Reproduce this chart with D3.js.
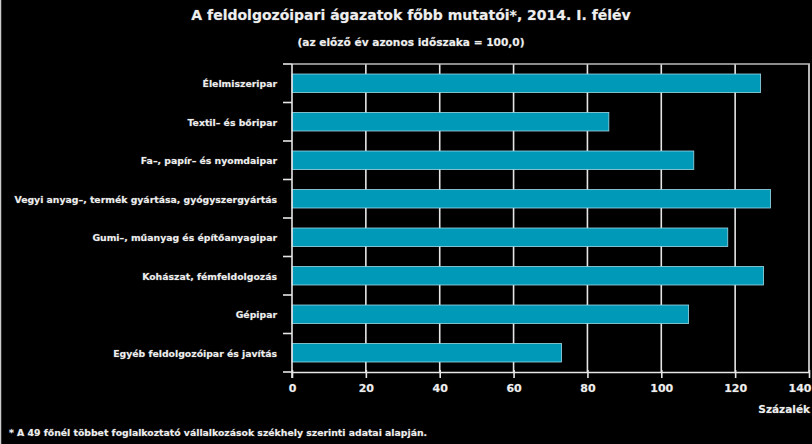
<!DOCTYPE html>
<html><head><meta charset="utf-8">
<script src="https://cdn.jsdelivr.net/npm/d3@7"></script>
<style>
html,body{margin:0;padding:0;background:#000;}
svg{display:block;}
text{font-family:"DejaVu Sans",Verdana,sans-serif;fill:#eeeeee;paint-order:stroke;stroke:#555;stroke-width:0.6px;}
</style></head>
<body>
<script>
const categories = [
  "Élelmiszeripar",
  "Textil– és bőripar",
  "Fa–, papír– és nyomdaipar",
  "Vegyi anyag–, termék gyártása, gyógyszergyártás",
  "Gumi–, műanyag és építőanyagipar",
  "Kohászat, fémfeldolgozás",
  "Gépipar",
  "Egyéb feldolgozóipar és javítás"
];
const values = [126.9, 85.8, 108.8, 129.6, 118.0, 127.7, 107.4, 73.0];
const xTicks = [0, 20, 40, 60, 80, 100, 120, 140];
const title = "A feldolgozóipari ágazatok főbb mutatói*, 2014. I. félév";
const subtitle = "(az előző év azonos időszaka = 100,0)";
const xAxisTitle = "Százalék";
const footnote = "* A 49 főnél többet foglalkoztató vállalkozások székhely szerinti adatai alapján.";

const W = 812, H = 444;
const mLeft = 292, mRight = 809, mTop = 64, mBottom = 372;

const svg = d3.select("body").append("svg").attr("width", W).attr("height", H);
svg.append("rect").attr("width", W).attr("height", H).attr("fill", "#000");
svg.append("line").attr("x1", 0.5).attr("x2", 0.5).attr("y1", 0).attr("y2", H)
  .attr("stroke", "#cccccc").attr("stroke-width", 1.5);

const x = d3.scaleLinear().domain([0, 140]).range([mLeft, mRight]);
const y = d3.scaleBand().domain(categories).range([mTop, mBottom]).paddingInner(0.52).paddingOuter(0.26);

// grid
svg.append("g").selectAll("line").data(xTicks.slice(1)).join("line")
  .attr("x1", d => x(d)).attr("x2", d => x(d)).attr("y1", mTop).attr("y2", mBottom)
  .attr("stroke", "#e6e6e6").attr("stroke-width", 1.6);
// top border
svg.append("line").attr("x1", mLeft).attr("x2", mRight + 1).attr("y1", mTop).attr("y2", mTop)
  .attr("stroke", "#bbbbbb").attr("stroke-width", 1.5);

// bars
svg.append("g").selectAll("rect").data(values).join("rect")
  .attr("x", x(0)).attr("y", (d, i) => y(categories[i]))
  .attr("width", d => x(d) - x(0)).attr("height", y.bandwidth())
  .attr("fill", "#0099b8").attr("stroke", "#9fdbe8").attr("stroke-width", 0.8);

// x axis
const xAxis = svg.append("g").attr("transform", `translate(0,${mBottom})`)
  .call(d3.axisBottom(x).tickValues(xTicks).tickSize(6).tickSizeOuter(0));
xAxis.select(".domain").attr("stroke", "#e6e6e6").attr("stroke-width", 1.6);
xAxis.selectAll(".tick line").attr("stroke", "#e6e6e6").attr("stroke-width", 1.6).attr("y1", -2);
xAxis.selectAll(".tick text").attr("dy", 0).attr("y", 20)
  .style("font-size", "11px").style("font-weight", "bold").attr("fill", "#eee")
  .attr("text-anchor", d => d === 140 ? "end" : "middle")
  .attr("x", d => d === 140 ? 2 : 0);

// y axis with ticks at band boundaries
const boundaries = d3.range(categories.length + 1).map(i => mTop + i * y.step());
svg.append("line").attr("x1", mLeft).attr("x2", mLeft).attr("y1", mTop).attr("y2", mBottom + 6)
  .attr("stroke", "#e6e6e6").attr("stroke-width", 1.6);
svg.append("g").selectAll("line").data(boundaries).join("line")
  .attr("x1", mLeft - 9).attr("x2", mLeft).attr("y1", d => d).attr("y2", d => d)
  .attr("stroke", "#e6e6e6").attr("stroke-width", 1.6);

svg.append("g").selectAll("text").data(categories).join("text")
  .attr("x", 277).attr("y", d => y(d) + y.bandwidth() / 2 + 4)
  .attr("text-anchor", "end").style("font-size", "9.3px").style("font-weight", "bold")
  .text(d => d);

// titles
svg.append("text").attr("x", 411).attr("y", 20).attr("text-anchor", "middle")
  .style("font-size", "14px").style("font-weight", "bold").text(title);
svg.append("text").attr("x", 411).attr("y", 46).attr("text-anchor", "middle")
  .style("font-size", "10.6px").style("font-weight", "bold").text(subtitle);
svg.append("text").attr("x", 810).attr("y", 413).attr("text-anchor", "end")
  .style("font-size", "10.5px").style("font-weight", "bold").text(xAxisTitle);
svg.append("text").attr("x", 9).attr("y", 436)
  .style("font-size", "9.3px").style("font-weight", "bold").text(footnote);
</script>
</body></html>
